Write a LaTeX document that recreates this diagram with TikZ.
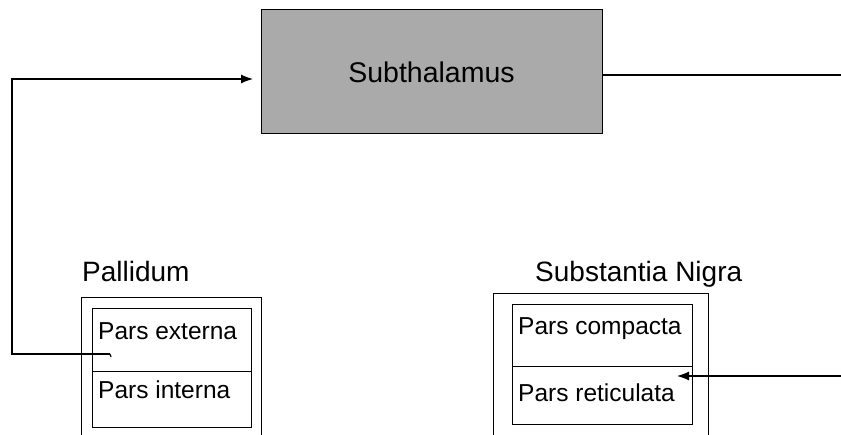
\documentclass[tikz,border=0pt]{standalone}
\usepackage{fontspec}
\setmainfont{Liberation Sans}
\usetikzlibrary{arrows.meta}
\definecolor{subgray}{HTML}{AAAAAA}
\begin{document}
\begin{tikzpicture}[x=1pt,y=-1pt,
  box/.style={draw=black,line width=1.4pt,rectangle,inner sep=0pt,anchor=north west},
  cell/.style={draw=black,line width=1.3pt,rectangle,inner sep=0pt,anchor=north west},
  bigtext/.style={font=\fontsize{28}{28}\selectfont,inner sep=0pt,anchor=base west},
  celltext/.style={font=\fontsize{24.5}{24.5}\selectfont,inner sep=0pt,anchor=base west},
  conn/.style={draw=black,line width=1.2pt},
  tip/.style={-{Latex[length=12pt,width=9pt]}}]
\useasboundingbox (0,0) rectangle (841,435);
\clip (0,0) rectangle (841,435);
% Subthalamus
\node[box,fill=subgray,minimum width=341pt,minimum height=124pt] (sub) at (261,9) {};
\node[font=\fontsize{28.5}{28.5}\selectfont,inner sep=0pt] (subt) at (431.5,72) {Subthalamus};
% Pallidum
\node[bigtext] (pall) at (82,282) {Pallidum};
\node[box,minimum width=180pt,minimum height=150pt] (pallbox) at (81,297) {};
\node[cell,minimum width=159pt,minimum height=63pt] (pe) at (92,308) {};
\node[cell,minimum width=159pt,minimum height=56pt] (pi) at (92,371) {};
\node[celltext] (pet) at (98,340) {Pars externa};
\node[celltext] (pit) at (98,399) {Pars interna};
% Substantia Nigra
\node[bigtext] (sn) at (535,282) {Substantia Nigra};
\node[box,minimum width=215pt,minimum height=155pt] (snbox) at (493,293) {};
\node[cell,minimum width=180pt,minimum height=62pt] (pc) at (512,304) {};
\node[cell,minimum width=180pt,minimum height=58pt] (pr) at (512,366) {};
\node[celltext] (pct) at (518,335) {Pars compacta};
\node[celltext] (prt) at (518,402) {Pars reticulata};
% connectors
\coordinate (peend) at (110,354);
\coordinate (subin) at (253,79);
\draw[conn,tip] (peend) -- (12,354) -- (12,79) -- (subin);
\draw[conn] (peend) -- ++(1,3);
\coordinate (rightend) at (841,75);
\draw[conn] (sub.east |- rightend) -- (rightend);
\coordinate (rstart) at (841,376);
\coordinate (prin) at (677,376);
\draw[conn,tip] (rstart) -- (prin);
\end{tikzpicture}
\end{document}
